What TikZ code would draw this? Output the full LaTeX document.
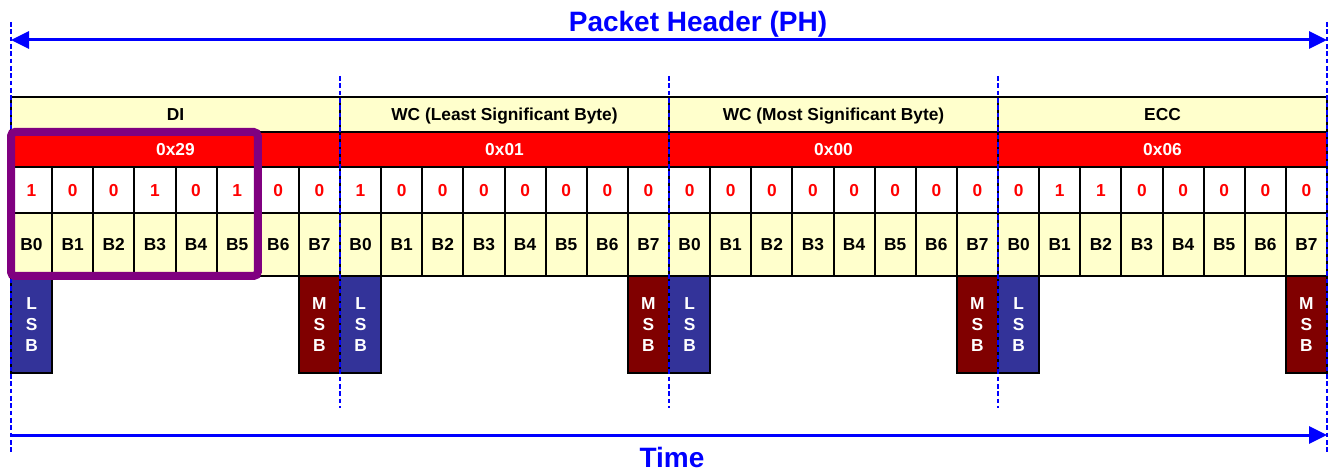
\documentclass[tikz,border=0pt]{standalone}
\usepackage{fontspec}
\setmainfont{Liberation Sans}
\usetikzlibrary{arrows.meta}

\definecolor{cellyellow}{HTML}{FFFFCC}
\definecolor{hexred}{HTML}{FF0000}
\definecolor{lsbblue}{HTML}{333399}
\definecolor{msbred}{HTML}{800000}
\definecolor{selpurple}{HTML}{800080}
\definecolor{lineblue}{HTML}{0000FF}

\begin{document}
\begin{tikzpicture}[
    x=0.75pt, y=-0.75pt,
    cell/.style={draw, line width=1.5pt, inner sep=0pt, outer sep=0pt},
    celltext/.style={font=\bfseries\fontsize{13}{15}\selectfont, text height=11.3pt, text depth=2pt},
    fieldbox/.style={cell, celltext, fill=cellyellow, minimum width=246.75pt, minimum height=26.25pt},
    hexbox/.style={cell, celltext, fill=hexred, text=white, minimum width=246.75pt, minimum height=26.25pt},
    bitbox/.style={cell, celltext, fill=white, text=hexred, minimum width=30.84pt, minimum height=34.5pt},
    lblbox/.style={cell, celltext, fill=cellyellow, minimum width=30.84pt, minimum height=47.25pt},
    sigbox/.style={cell, text=white, align=center, minimum width=30.84pt, minimum height=72.75pt,
        font=\bfseries\fontsize{13}{15.75}\selectfont},
    lsbbox/.style={sigbox, fill=lsbblue},
    msbbox/.style={sigbox, fill=msbred},
    divider/.style={draw=lineblue, line width=2pt, dash pattern=on 3.5pt off 2pt},
    timeline/.style={draw=lineblue, line width=2.25pt},
    arrowend/.style={-{Triangle[length=13.5pt, width=12.75pt]}},
    arrowboth/.style={{Triangle[length=13.5pt, width=12.75pt]}-{Triangle[length=13.5pt, width=12.75pt]}},
    selbox/.style={draw=selpurple, line width=6pt, rounded corners=3pt},
    title/.style={text=lineblue, inner sep=0pt, anchor=base, font=\bfseries\fontsize{21}{24}\selectfont},
]
\useasboundingbox (0,0) rectangle (1330,473);

% bytes of the header
\foreach \k/\fld/\hex/\bits in {
    0/DI/0x29/{1,0,0,1,0,1,0,0},
    1/{WC (Least Significant Byte)}/0x01/{1,0,0,0,0,0,0,0},
    2/{WC (Most Significant Byte)}/0x00/{0,0,0,0,0,0,0,0},
    3/ECC/0x06/{0,1,1,0,0,0,0,0}}{
  \node[fieldbox] (fld\k) at (175.5+329*\k, 114.5) {\fld};
  \node[hexbox] (hex\k) at (175.5+329*\k, 149.5) {\hex};
  \foreach \b [count=\i from 0] in \bits {
    \node[bitbox] (bit\k-\i) at ({11+329*\k+41.125*(\i+0.5)}, 190) {\b};
    \node[lblbox] (lbl\k-\i) at ({11+329*\k+41.125*(\i+0.5)}, 244.5) {B\i};
  }
  \node[lsbbox] (lsb\k) at ({11+329*\k+20.5625}, 324.5) {L\\S\\B};
  \node[msbbox] (msb\k) at ({11+329*\k+308.4375}, 324.5) {M\\S\\B};
}

% byte boundaries
\foreach \n/\x/\top/\bot in {0/11/22/453, 1/340/76/408, 2/669/76/408, 3/998/76/408, 4/1327/22/453}{
  \coordinate (divT\n) at (\x, \top);
  \coordinate (divB\n) at (\x, \bot);
  \draw[divider] (divT\n) -- (divB\n);
}

% selected bits of DI
\draw[selbox] (hex0.north west) rectangle (lbl0-5.south east);

% header span and time axis
\coordinate (phL) at (11, 40);
\coordinate (phR) at (1327, 40);
\coordinate (tmL) at (11, 435);
\coordinate (tmR) at (1327, 435);
\draw[timeline, arrowboth] (phL) -- (phR);
\draw[timeline, arrowend] (tmL) -- (tmR);
\node[title] (phlabel) at (698, 32) {Packet Header (PH)};
\node[title] (timelabel) at (672, 467) {Time};

\end{tikzpicture}
\end{document}
